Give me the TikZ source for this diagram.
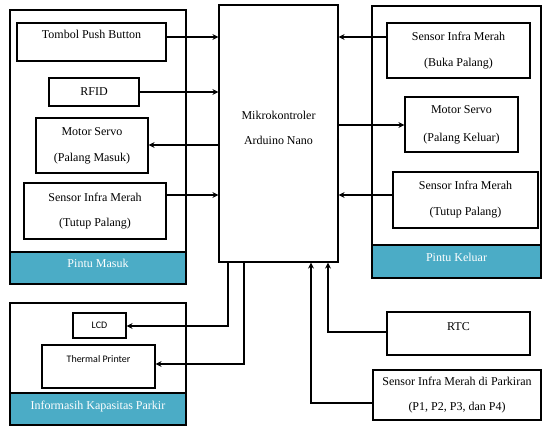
\documentclass[tikz,border=0pt]{standalone}
\usepackage{fontspec}
\setmainfont{Liberation Serif}
\newfontfamily\calibrifont{Carlito}
\usetikzlibrary{arrows.meta}
\definecolor{bandteal}{RGB}{75,172,198}

\begin{document}
\begin{tikzpicture}[x=1pt,y=-1pt,
    box/.style={draw,line width=1.2pt,fill=white,align=center,inner sep=0pt,font=\fontsize{12}{13}\selectfont},
    frame/.style={draw,line width=1.2pt,inner sep=0pt},
    band/.style={draw,line width=1.2pt,fill=bandteal,text=white,align=center,inner sep=0pt,font=\fontsize{12}{13}\selectfont},
    conn/.style={line width=1.2pt,-{Stealth[length=6pt,width=6pt]}}]
    \useasboundingbox (0,0) rectangle (545,427);

    % Informasi kapasitas parkir
    \node[frame,minimum width=176,minimum height=122] (info) at (98,364) {};
    \node[box,minimum width=53,minimum height=25,font=\calibrifont\fontsize{10}{12}\selectfont] (lcd) at (99.5,325.5) {LCD};
    \node[box,minimum width=113,minimum height=43,font=\calibrifont\fontsize{10}{12}\selectfont] (printer) at (98.5,366.5) {Thermal Printer\\[3pt]\mbox{}};
    \node[band,minimum width=176,minimum height=32] (infoBand) at (98,409) {Informasih Kapasitas Parkir\\[-5pt]\mbox{}};

    % Pintu masuk
    \node[frame,minimum width=176,minimum height=274] (masuk) at (98,147) {};
    \node[band,minimum width=176,minimum height=32] (masukBand) at (98,268) {Pintu Masuk\\[-3pt]\mbox{}};
    \node[box,minimum width=149,minimum height=38] (tombol) at (91.5,42) {Tombol Push Button\\[3pt]\mbox{}};
    \node[box,minimum width=90,minimum height=28] (rfid) at (94,92) {RFID};
    \node[box,minimum width=112,minimum height=55] (servoIn) at (92,145.5) {Motor Servo\\[13pt](Palang Masuk)};
    \node[box,minimum width=142,minimum height=56] (sensorIn) at (95,211) {Sensor Infra Merah\\[12pt](Tutup Palang)};

    % Mikrokontroler
    \node[box,minimum width=119,minimum height=257] (micro) at (278.5,133.5) {Mikrokontroler\\[12pt]Arduino Nano\\[-1pt]\mbox{}};

    % Pintu keluar
    \node[frame,minimum width=169,minimum height=272] (keluar) at (456.5,142) {};
    \node[band,minimum width=169,minimum height=33] (keluarBand) at (456.5,261.5) {Pintu Keluar\\[-4pt]\mbox{}};
    \node[box,minimum width=143,minimum height=55] (sensorBuka) at (458.5,50.5) {Sensor Infra Merah\\[13pt](Buka Palang)};
    \node[box,minimum width=113,minimum height=55] (servoOut) at (461.5,124.5) {Motor Servo\\[15pt](Palang Keluar)};
    \node[box,minimum width=145,minimum height=56] (sensorOut) at (465.5,200) {Sensor Infra Merah\\[13pt](Tutup Palang)};

    % RTC dan sensor parkiran
    \node[box,minimum width=143,minimum height=43] (rtc) at (458.5,333.5) {RTC\\\mbox{}};
    \node[box,minimum width=168,minimum height=50] (parkir) at (457,395) {Sensor Infra Merah di Parkiran\\[12pt](P1, P2, P3, dan P4)};

    % Connectors
    \draw[conn] (tombol.east |- 0,37) -- (micro.west |- 0,37);
    \draw[conn] (rfid.east) -- (rfid.east -| micro.west);
    \draw[conn] (micro.west |- 0,145) -- (servoIn.east |- 0,145);
    \draw[conn] (sensorIn.east |- 0,195) -- (micro.west |- 0,195);
    \draw[conn] (sensorBuka.west |- 0,37) -- (micro.east |- 0,37);
    \draw[conn] (micro.east |- 0,125) -- (servoOut.west |- 0,125);
    \draw[conn] (sensorOut.west |- 0,195) -- (micro.east |- 0,195);
    \draw[conn] (micro.south -| 228,0) |- (lcd.east |- 0,326);
    \draw[conn] (micro.south -| 244,0) |- (printer.east |- 0,364);
    \draw[conn] (rtc.west |- 0,332) -| (micro.south -| 328,0);
    \draw[conn] (parkir.west |- 0,403) -| (micro.south -| 311,0);
\end{tikzpicture}
\end{document}
